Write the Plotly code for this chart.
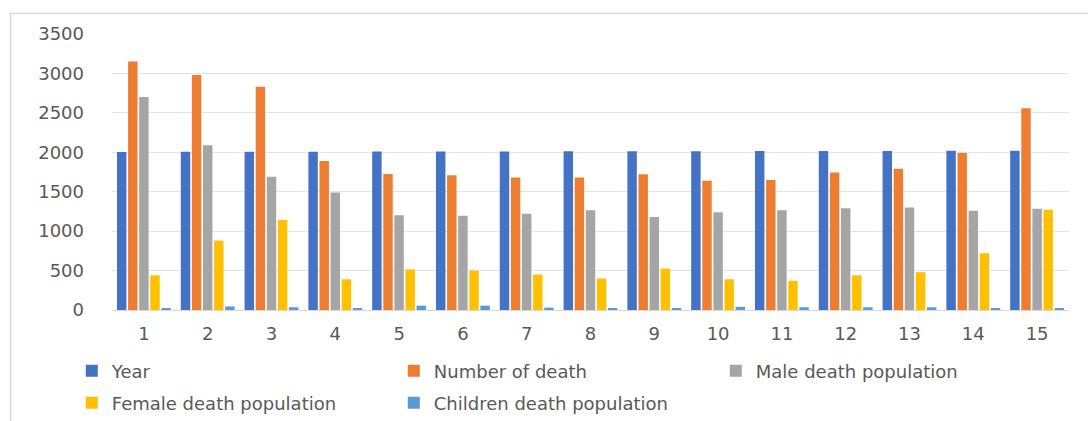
import plotly.graph_objects as go

# Categories along the x axis
categories = [str(i) for i in range(1, 16)]

# Series values
year = [2005, 2006, 2007, 2008, 2009, 2010, 2011, 2012, 2013, 2014, 2015, 2016, 2017, 2018, 2019]
number_of_death = [3150, 2980, 2830, 1890, 1725, 1710, 1680, 1680, 1720, 1640, 1650, 1745, 1790, 1990, 2560]
male_death = [2700, 2090, 1690, 1490, 1200, 1195, 1220, 1265, 1180, 1240, 1265, 1290, 1300, 1260, 1285]
female_death = [440, 880, 1140, 390, 515, 500, 450, 400, 525, 390, 370, 440, 480, 720, 1270]
children_death = [25, 45, 35, 25, 55, 55, 30, 20, 20, 40, 35, 35, 35, 25, 20]

# name, values, colour, legend row
series = [
    ("Year", year, "#4472C4", "legend"),
    ("Number of death", number_of_death, "#ED7D31", "legend"),
    ("Male death population", male_death, "#A5A5A5", "legend"),
    ("Female death population", female_death, "#FFC000", "legend2"),
    ("Children death population", children_death, "#5B9BD5", "legend2"),
]

FONT = "DejaVu Sans"
TEXT = "#595959"
SIZE = 18

fig = go.Figure()
for name, vals, color, leg in series:
    fig.add_trace(go.Bar(
        x=categories, y=vals, name=name, legend=leg,
        marker=dict(color=color, line=dict(width=0)),
    ))

legend_common = dict(
    orientation="h", xanchor="left", yanchor="middle",
    entrywidth=277, entrywidthmode="pixels",
    font=dict(family=FONT, size=SIZE, color=TEXT),
    bgcolor="rgba(0,0,0,0)", borderwidth=0,
)

fig.update_layout(
    width=1088, height=421,
    margin=dict(l=112, r=19, t=34, b=111, autoexpand=False),
    paper_bgcolor="white", plot_bgcolor="white",
    barmode="group", bargap=0.13, bargroupgap=0.15,
    font=dict(family=FONT, color=TEXT, size=SIZE),
    showlegend=True,
    legend=dict(x=-0.042, y=(310 - 371) / 276, **legend_common),
    legend2=dict(x=-0.042, y=(310 - 403) / 276, **legend_common),
    xaxis=dict(
        type="category", showgrid=False, showline=True, linecolor="#d9d9d9",
        ticks="", tickfont=dict(family=FONT, size=SIZE, color=TEXT),
        ticklabelstandoff=7,
    ),
    yaxis=dict(
        range=[0, 3500], dtick=500, tick0=0, showgrid=True, gridcolor="#e3e3e3",
        gridwidth=1, zeroline=False, showline=False, ticks="",
        tickfont=dict(family=FONT, size=SIZE, color=TEXT),
        ticklabelstandoff=27,
    ),
    shapes=[dict(
        type="rect", xref="paper", yref="paper",
        x0=-0.106, x1=1.05, y0=-0.5, y1=1.074,
        line=dict(color="#d9d9d9", width=1.5), fillcolor="rgba(0,0,0,0)", layer="below",
    )],
)

fig.write_html("out.html")
